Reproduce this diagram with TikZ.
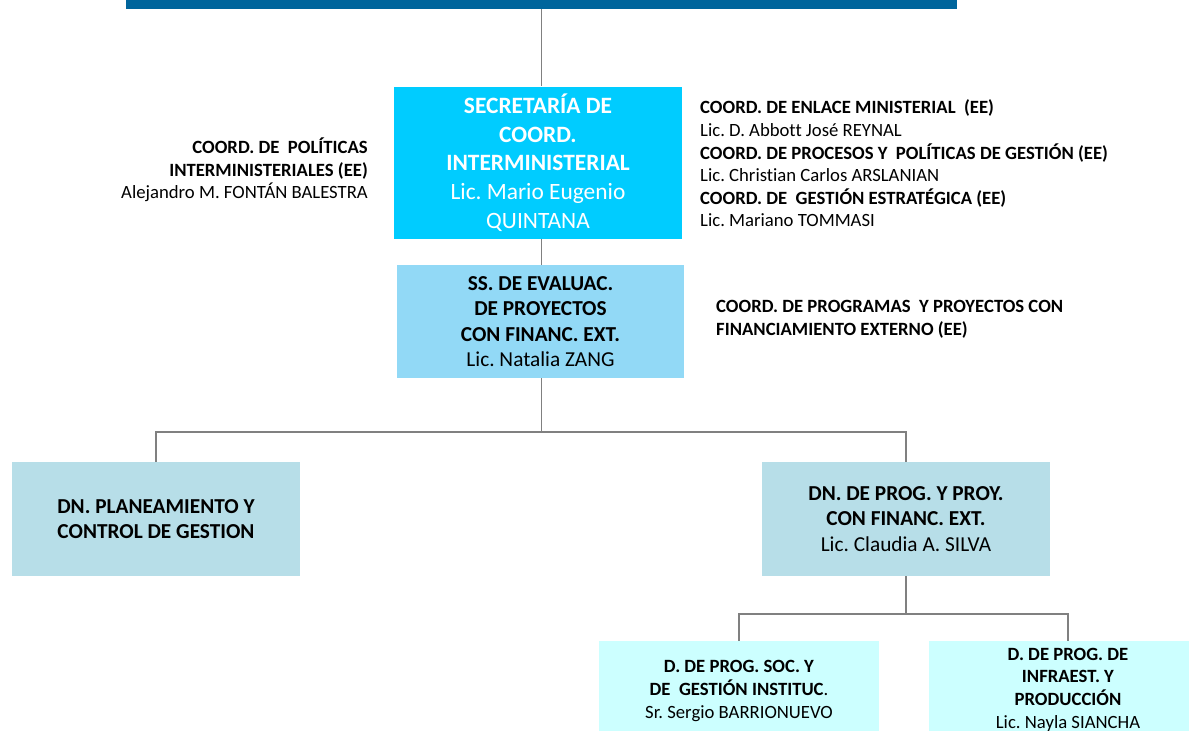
\documentclass[tikz,border=0pt]{standalone}
\usepackage{fontspec}
\setmainfont[Ligatures=NoCommon]{Carlito}
\frenchspacing
\newcommand\txsmall{\fontsize{18.7}{22.6}\selectfont}
\newcommand\txmid{\fontsize{21.3}{25.3}\selectfont}
\newcommand\txbig{\fontsize{23.4}{28.7}\selectfont}
\definecolor{barblue}{RGB}{0,101,156}
\definecolor{secblue}{RGB}{0,204,255}
\definecolor{ssblue}{RGB}{146,217,246}
\definecolor{dnaqua}{RGB}{183,222,232}
\definecolor{dlight}{RGB}{204,255,255}
\definecolor{linkgray}{RGB}{128,128,128}
\begin{document}
\begin{tikzpicture}[x=1pt,y=-1pt,
    unit/.style={inner sep=0pt,align=center,minimum width=288,minimum height=114},
    link/.style={draw=linkgray,line width=1.3pt},
    side/.style={inner sep=0pt,font=\txsmall}]
  \useasboundingbox (0,0) rectangle (1189,731);
  % top bar and secretaria
  \node[fill=barblue,minimum width=831,minimum height=9,inner sep=0pt] (bar) at (541.5,4.5) {};
  \node[unit,fill=secblue,text=white,minimum height=152,font=\txbig] (sec) at (538,162.5)
    {\textbf{SECRETARÍA DE}\\\textbf{COORD.}\\\textbf{INTERMINISTERIAL}\\Lic. Mario Eugenio\\QUINTANA};
  \node[unit,fill=ssblue,minimum width=287,minimum height=113,font=\txmid] (ss) at (540.5,321.5)
    {\textbf{SS. DE EVALUAC.}\\\textbf{DE PROYECTOS}\\\textbf{CON FINANC. EXT.}\\Lic. Natalia ZANG};
  % direcciones nacionales
  \node[unit,fill=dnaqua,font=\txmid] (dnplan) at (156,519)
    {\textbf{DN. PLANEAMIENTO Y}\\\textbf{CONTROL DE GESTION}};
  \node[unit,fill=dnaqua,font=\txmid] (dnprog) at (906,519)
    {\textbf{DN. DE PROG. Y PROY.}\\\textbf{CON FINANC. EXT.}\\Lic. Claudia A. SILVA};
  % direcciones
  \node[unit,fill=dlight,minimum width=280,minimum height=100,font=\txsmall] (dsoc) at (739,691)
    {\textbf{D. DE PROG. SOC. Y}\\\textbf{DE\ \ GESTIÓN INSTITUC}.\\Sr. Sergio BARRIONUEVO};
  \node[unit,fill=dlight,minimum width=260,minimum height=100,font=\txsmall] (dinf) at (1059,691) {};
  \node[side,align=center] (dinftext) at (1068,689.5)
    {\textbf{D. DE PROG. DE}\\\textbf{INFRAEST. Y}\\\textbf{PRODUCCIÓN}\\Lic. Nayla SIANCHA};
  % coordinaciones
  \node[side,align=right,anchor=east] (cpol) at (368,170)
    {\textbf{COORD. DE\ \ POLÍTICAS}\\\textbf{INTERMINISTERIALES (EE)}\\Alejandro M. FONTÁN BALESTRA};
  \node[side,align=left,anchor=west] (cenl) at (700,163.5)
    {\textbf{COORD. DE ENLACE MINISTERIAL\ \ (EE)}\\Lic. D. Abbott José REYNAL\\
     \textbf{COORD. DE PROCESOS Y\ \ POLÍTICAS DE GESTIÓN (EE)}\\Lic. Christian Carlos ARSLANIAN\\
     \textbf{COORD. DE\ \ GESTIÓN ESTRATÉGICA (EE)}\\Lic. Mariano TOMMASI};
  \node[side,align=left,anchor=west] (cprog) at (716,319)
    {\textbf{COORD. DE PROGRAMAS\ \ Y PROYECTOS CON}\\\textbf{FINANCIAMIENTO EXTERNO (EE)}};
  % connectors
  \coordinate (j1) at (541.5,432);
  \coordinate (j2) at (906,614);
  \draw[link] (bar.south) -- (bar.south |- sec.north);
  \draw[link] (bar.south |- sec.south) -- (bar.south |- ss.north);
  \draw[link] (bar.south |- ss.south) -- (j1) -| (dnplan.north);
  \draw[link] (j1) -| (dnprog.north);
  \draw[link] (dnprog.south) -- (j2) -| (dsoc.north);
  \draw[link] (j2) -| (dinftext.north |- dinf.north);
\end{tikzpicture}
\end{document}
